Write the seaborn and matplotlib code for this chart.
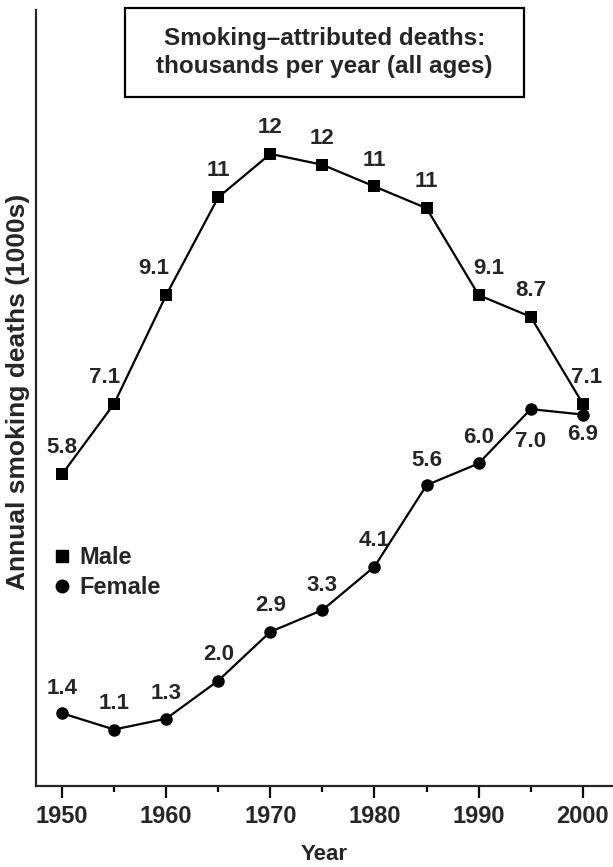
import numpy as np
import pandas as pd
import matplotlib
matplotlib.use("Agg")
import matplotlib.pyplot as plt
from matplotlib.lines import Line2D
from matplotlib.patches import Rectangle
import seaborn as sns

# data (thousands of deaths per year)
years = [1950, 1955, 1960, 1965, 1970, 1975, 1980, 1985, 1990, 1995, 2000]
male = [5.8, 7.1, 9.1, 10.9, 11.7, 11.5, 11.1, 10.7, 9.1, 8.7, 7.1]
female = [1.4, 1.1, 1.3, 2.0, 2.9, 3.3, 4.1, 5.6, 6.0, 7.0, 6.9]
x_ticks = [1950, 1960, 1970, 1980, 1990, 2000]

# label nudges in points (dx, dy) relative to each marker
male_dx = [0, -7, -9, 0, 0, 0, 0, 0, 7, 0, 3]
male_dy = [19] * 11
female_dx = [0] * 11
female_dy = [18, 19, 18, 19, 19, 18, 19, 18, 19, -23, -14]

sns.set_style("white")
plt.rcParams['font.family'] = ['Liberation Sans', 'DejaVu Sans']
plt.rcParams['font.weight'] = 'bold'

df = pd.DataFrame({
    'Year': years * 2,
    'deaths': male + female,
    'sex': ['Male'] * len(years) + ['Female'] * len(years),
})

fig = plt.figure(figsize=(6.13, 8.67), dpi=100)
ax = fig.add_axes([36 / 613, 81 / 867, 1 - 36 / 613, 776 / 867])

sns.lineplot(
    data=df, x='Year', y='deaths', style='sex',
    markers={'Male': 's', 'Female': 'o'}, dashes=False,
    color='black', linewidth=1.6, markersize=9, markeredgewidth=0,
    legend=False, ax=ax,
)


def _fmt(v):
    return f'{v:.0f}' if v >= 10 else f'{v:.1f}'


for vals, dxs, dys in [(male, male_dx, male_dy), (female, female_dx, female_dy)]:
    for yr, v, dx, dy in zip(years, vals, dxs, dys):
        ax.annotate(_fmt(v), (yr, v), xytext=(dx, dy), textcoords='offset points',
                    ha='center', va='center', fontsize=16, fontweight='bold')

ax.set_xlim(1947.5, 2002.9)
ax.set_ylim(0.06, 14.35)
ax.set_xticks(x_ticks)
ax.set_xticks(range(1955, 2001, 10), minor=True)
ax.set_yticks([])
ax.tick_params(axis='x', which='both', bottom=True, direction='out', color='black')
ax.tick_params(axis='x', which='major', length=8.4, width=1.6, pad=5, labelsize=17)
ax.tick_params(axis='x', which='minor', length=4.2, width=1.6)
for lbl in ax.get_xticklabels():
    lbl.set_fontweight('bold')
ax.set_xlabel('Year', fontsize=16, fontweight='bold', labelpad=12)
ax.set_ylabel('Annual smoking deaths (1000s)', fontsize=19, fontweight='bold')
ax.yaxis.set_label_coords(-0.011, 0.508)
ax.spines[['top', 'right']].set_visible(False)
ax.spines[['left', 'bottom']].set_linewidth(1.6)

handles = [
    Line2D([], [], marker='s', color='black', linestyle='none', markersize=9, label='Male'),
    Line2D([], [], marker='o', color='black', linestyle='none', markersize=9, label='Female'),
]
ax.legend(handles=handles, loc='center left', bbox_to_anchor=(0.005, 0.275), frameon=False,
          handlelength=0.6, handletextpad=0.4, borderaxespad=0.3, labelspacing=0.3,
          prop={'size': 17, 'weight': 'bold'})

# boxed title
fig.patches.append(Rectangle((125 / 613, (867 - 97) / 867), 399 / 613, 89 / 867,
                             transform=fig.transFigure, fill=False, edgecolor='black',
                             linewidth=1.6))
fig.text(324.5 / 613, (867 - 52.5) / 867,
         'Smoking\u2013attributed deaths:\nthousands per year (all ages)',
         ha='center', va='center', fontsize=17.5, fontweight='bold', linespacing=1.3)

fig.savefig('out.png', dpi=100)
